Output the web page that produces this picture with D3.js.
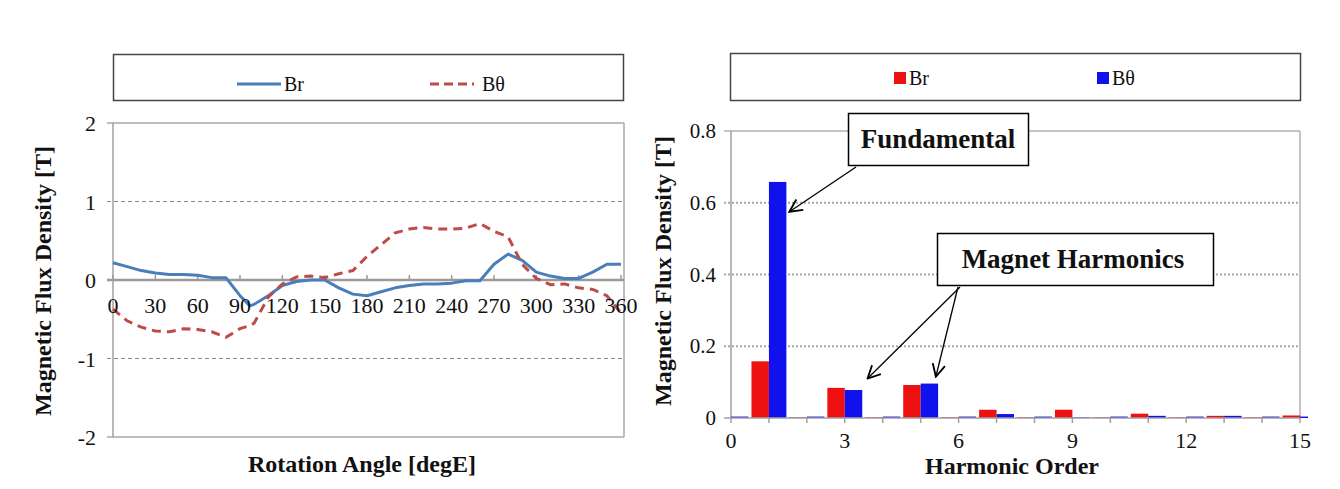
<!DOCTYPE html>
<html><head><meta charset="utf-8">
<script src="https://cdn.jsdelivr.net/npm/d3@7"></script>
<style>body{margin:0;background:#fff}svg{display:block}text{font-family:"Liberation Serif","Times New Roman",serif;fill:#111}</style>
</head><body><svg id="c" width="1340" height="489" font-family="Liberation Serif, Times New Roman, serif"></svg>
<script>
// ---- Left chart data (Magnetic flux density vs rotation angle) ----
const angles = [0,10,20,30,40,50,60,70,80,90,97,100,110,120,130,140,150,160,170,180,190,200,210,220,230,240,250,260,270,280,290,300,310,320,330,340,350,360];
const brWave = [0.22,0.17,0.12,0.09,0.07,0.07,0.06,0.03,0.03,-0.20,-0.33,-0.31,-0.20,-0.07,-0.02,0.0,0.0,-0.10,-0.18,-0.20,-0.15,-0.10,-0.07,-0.05,-0.05,-0.04,-0.01,-0.01,0.20,0.33,0.25,0.10,0.05,0.02,0.02,0.10,0.20,0.20];
const btWave = [-0.37,-0.52,-0.60,-0.65,-0.66,-0.62,-0.63,-0.66,-0.73,-0.62,-0.58,-0.55,-0.22,-0.05,0.04,0.05,0.03,0.08,0.12,0.30,0.45,0.60,0.65,0.67,0.65,0.65,0.66,0.72,0.62,0.55,0.20,0.02,-0.06,-0.05,-0.10,-0.12,-0.20,-0.42];
const leftXTicks = [0,30,60,90,120,150,180,210,240,270,300,330,360];
const leftYTicks = [-2,-1,0,1,2];

// ---- Right chart data (harmonic spectrum) ----
const orders = [0,1,2,3,4,5,6,7,8,9,10,11,12,13,14,15];
const brHarm = [0.002,0.158,0.002,0.084,0.002,0.092,0.002,0.023,0.002,0.023,0.002,0.012,0.002,0.006,0.002,0.007];
const btHarm = [0.004,0.658,0.004,0.078,0.004,0.096,0.004,0.011,0.004,0.002,0.004,0.006,0.004,0.006,0.004,0.004];
const rightXTicks = [0,3,6,9,12,15];
const rightYTicks = [0,0.2,0.4,0.6,0.8];

const svg = d3.select('#c');

// ================= LEFT CHART =================
const xL = d3.scaleLinear().domain([0,360]).range([113,621]);
const yL = d3.scaleLinear().domain([-2,2]).range([437,123]);
const gL = svg.append('g');

// legend
gL.append('rect').attr('x',113.5).attr('y',54.5).attr('width',510).attr('height',46).attr('fill','#fff').attr('stroke','#444').attr('stroke-width',1.5);
gL.append('line').attr('x1',237).attr('x2',281).attr('y1',84).attr('y2',84).attr('stroke','#4A7EBB').attr('stroke-width',3);
gL.append('text').attr('x',284).attr('y',91).attr('font-size',20).text('Br');
gL.append('line').attr('x1',430).attr('x2',474).attr('y1',84).attr('y2',84).attr('stroke','#BE4B48').attr('stroke-width',3).attr('stroke-dasharray','9,5');
gL.append('text').attr('x',482).attr('y',91).attr('font-size',20).text('Bθ');

// grid
gL.selectAll('.gl').data([-1,1]).join('line')
  .attr('x1',xL(0)-6).attr('x2',624).attr('y1',d=>yL(d)).attr('y2',d=>yL(d))
  .attr('stroke','#8a8a8a').attr('stroke-width',1).attr('stroke-dasharray','4,3');
// border
gL.append('line').attr('x1',xL(0)-6).attr('x2',624).attr('y1',yL(2)).attr('y2',yL(2)).attr('stroke','#a8a8a8').attr('stroke-width',1.5);
gL.append('line').attr('x1',xL(0)-6).attr('x2',624).attr('y1',yL(-2)).attr('y2',yL(-2)).attr('stroke','#a8a8a8').attr('stroke-width',1.5);
gL.append('line').attr('x1',624).attr('x2',624).attr('y1',yL(2)).attr('y2',yL(-2)).attr('stroke','#a8a8a8').attr('stroke-width',1.5);
gL.append('line').attr('x1',xL(0)).attr('x2',xL(0)).attr('y1',yL(2)).attr('y2',yL(-2)).attr('stroke','#a0a0a0').attr('stroke-width',1.5);
// zero axis
gL.append('line').attr('x1',xL(0)-6).attr('x2',624).attr('y1',yL(0)).attr('y2',yL(0)).attr('stroke','#9a9a9a').attr('stroke-width',2.5);
gL.selectAll('.xt').data(leftXTicks).join('line')
  .attr('x1',d=>xL(d)).attr('x2',d=>xL(d)).attr('y1',yL(0)-5).attr('y2',yL(0)).attr('stroke','#9a9a9a').attr('stroke-width',1.5);

// y tick labels
gL.selectAll('.yl').data(leftYTicks).join('text')
  .attr('x',96).attr('y',d=>yL(d)+8).attr('text-anchor','end').attr('font-size',22).text(d=>d);

// lines
const line = d3.line().x((d,i)=>xL(angles[i])).y(d=>yL(d));
gL.append('path').datum(brWave).attr('d',line).attr('fill','none').attr('stroke','#4A7EBB').attr('stroke-width',3).attr('stroke-linejoin','round');
gL.append('path').datum(btWave).attr('d',line).attr('fill','none').attr('stroke','#BE4B48').attr('stroke-width',3).attr('stroke-dasharray','9,6');

// x tick labels
gL.selectAll('.xl').data(leftXTicks).join('text')
  .attr('x',d=>xL(d)).attr('y',yL(0)+33).attr('text-anchor','middle').attr('font-size',22).text(d=>d);

// titles
gL.append('text').attr('x',362).attr('y',472).attr('text-anchor','middle').attr('font-size',24).attr('font-weight','bold').text('Rotation Angle [degE]');
gL.append('text').attr('transform','translate(51,281) rotate(-90)').attr('text-anchor','middle').attr('font-size',24).attr('font-weight','bold').text('Magnetic Flux Density [T]');

// ================= RIGHT CHART =================
const xR = d3.scaleLinear().domain([0,15]).range([731,1300]);
const yR = d3.scaleLinear().domain([0,0.8]).range([418,131]);
const gR = svg.append('g');

gR.append('rect').attr('x',730.5).attr('y',53.5).attr('width',570).attr('height',47).attr('fill','#fff').attr('stroke','#444').attr('stroke-width',1.5);
gR.append('rect').attr('x',894).attr('y',72).attr('width',12).attr('height',12).attr('fill','#EE1111');
gR.append('text').attr('x',909).attr('y',85).attr('font-size',20).text('Br');
gR.append('rect').attr('x',1097).attr('y',72).attr('width',12).attr('height',12).attr('fill','#1111EE');
gR.append('text').attr('x',1112).attr('y',85).attr('font-size',20).text('Bθ');

// grid (dotted)
gR.selectAll('.gr').data([0.2,0.4,0.6]).join('line')
  .attr('x1',xR(0)-7).attr('x2',xR(15)).attr('y1',d=>yR(d)).attr('y2',d=>yR(d))
  .attr('stroke','#a8a8a8').attr('stroke-width',2).attr('stroke-dasharray','2,2');
gR.append('line').attr('x1',xR(0)-7).attr('x2',xR(15)).attr('y1',yR(0.8)).attr('y2',yR(0.8)).attr('stroke','#b0b0b0').attr('stroke-width',1.5);
gR.append('line').attr('x1',xR(15)).attr('x2',xR(15)).attr('y1',yR(0.8)).attr('y2',yR(0)).attr('stroke','#b0b0b0').attr('stroke-width',1.5);
gR.append('line').attr('x1',xR(0)).attr('x2',xR(0)).attr('y1',yR(0.8)).attr('y2',yR(0)).attr('stroke','#a0a0a0').attr('stroke-width',1.5);

// bars
svg.append('clipPath').attr('id','cr').append('rect').attr('x',xR(0)).attr('y',yR(0.8)).attr('width',xR(15)-xR(0)+8).attr('height',yR(0)-yR(0.8));
const bw = 0.46;
const gb = gR.append('g').attr('clip-path','url(#cr)');
gb.selectAll('.br').data(orders).join('rect')
  .attr('x',d=>xR(d-bw)).attr('width',xR(bw)-xR(0)).attr('y',(d,i)=>yR(brHarm[i])).attr('height',(d,i)=>yR(0)-yR(brHarm[i])).attr('fill','#EE1111');
gb.selectAll('.bt').data(orders).join('rect')
  .attr('x',d=>xR(d)).attr('width',xR(bw)-xR(0)).attr('y',(d,i)=>yR(btHarm[i])).attr('height',(d,i)=>yR(0)-yR(btHarm[i])).attr('fill','#1111EE');

// x axis
gR.append('line').attr('x1',xR(0)-7).attr('x2',xR(15)).attr('y1',yR(0)).attr('y2',yR(0)).attr('stroke','#a0a0a0').attr('stroke-width',1.5);
gR.selectAll('.xt').data(orders).join('line')
  .attr('x1',d=>xR(d)).attr('x2',d=>xR(d)).attr('y1',yR(0)).attr('y2',yR(0)+5).attr('stroke','#a0a0a0').attr('stroke-width',1.5);

gR.selectAll('.yl').data(rightYTicks).join('text')
  .attr('x',716).attr('y',d=>yR(d)+7).attr('text-anchor','end').attr('font-size',21).text(d=>d===0?'0':d.toFixed(1));
gR.selectAll('.xl').data(rightXTicks).join('text')
  .attr('x',d=>xR(d)).attr('y',yR(0)+30).attr('text-anchor','middle').attr('font-size',22).text(d=>d);

gR.append('text').attr('x',1012).attr('y',474).attr('text-anchor','middle').attr('font-size',24).attr('font-weight','bold').text('Harmonic Order');
gR.append('text').attr('transform','translate(671,271) rotate(-90)').attr('text-anchor','middle').attr('font-size',24).attr('font-weight','bold').text('Magnetic Flux Density [T]');

// annotations
const defs = svg.append('defs');
defs.append('marker').attr('id','ah').attr('viewBox','0 0 12 12').attr('refX',11).attr('refY',6)
  .attr('markerWidth',15).attr('markerHeight',15).attr('markerUnits','userSpaceOnUse').attr('orient','auto')
  .append('path').attr('d','M1,1 L11,6 L1,11').attr('fill','none').attr('stroke','#000').attr('stroke-width',1.5);

function arrow(x1,y1,x2,y2){
  gR.append('line').attr('x1',x1).attr('y1',y1).attr('x2',x2).attr('y2',y2).attr('stroke','#000').attr('stroke-width',1.3).attr('marker-end','url(#ah)');
}
arrow(856,167, xR(1+0.46)+3, yR(0.575));
arrow(960,287, xR(3.6), yR(0.11));
arrow(958,287, xR(5.4), yR(0.115));

gR.append('rect').attr('x',848.5).attr('y',113.5).attr('width',180).attr('height',52).attr('fill','#fff').attr('stroke','#000').attr('stroke-width',1.5);
gR.append('text').attr('x',938).attr('y',148).attr('text-anchor','middle').attr('font-size',27).attr('font-weight','bold').text('Fundamental');
gR.append('rect').attr('x',937.5).attr('y',233.5).attr('width',276).attr('height',52).attr('fill','#fff').attr('stroke','#000').attr('stroke-width',1.5);
gR.append('text').attr('x',1073).attr('y',268).attr('text-anchor','middle').attr('font-size',27).attr('font-weight','bold').text('Magnet Harmonics');
</script></body></html>
